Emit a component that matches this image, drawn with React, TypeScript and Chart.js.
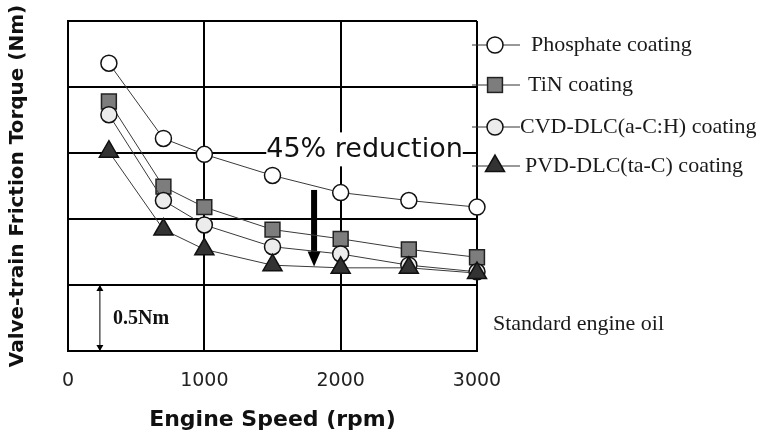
import React, { useEffect, useRef } from "react";
import { Chart, registerables } from "chart.js";

Chart.register(...registerables);

const speeds = [300, 700, 1000, 1500, 2000, 2500, 3000];
const phosphate = [2.18, 1.61, 1.49, 1.33, 1.2, 1.14, 1.09];
const tin = [1.89, 1.245, 1.09, 0.92, 0.85, 0.77, 0.71];
const cvdDlc = [1.79, 1.14, 0.955, 0.79, 0.735, 0.65, 0.6];
const pvdDlc = [1.51, 0.92, 0.77, 0.65, 0.63, 0.63, 0.59];

const seriesNames = [
  "Phosphate coating",
  "TiN coating",
  "CVD-DLC(a-C:H) coating",
  "PVD-DLC(ta-C) coating",
];
const xTicks = [0, 1000, 2000, 3000];

const SANS = "'DejaVu Sans', Verdana, sans-serif";
const SERIF = "'Liberation Serif', 'Times New Roman', serif";

function toXY(vals: number[]) {
  return vals.map((v, i) => ({ x: speeds[i], y: v }));
}

const annotationPlugin = {
  id: "annotations",
  beforeDatasetsDraw(chart: any) {
    const { ctx, scales } = chart;
    const xs = scales.x;
    const ys = scales.y;
    ctx.save();
    // "45% reduction" label with white backing
    ctx.font = `27px ${SANS}`;
    const label = "45% reduction";
    const w = ctx.measureText(label).width;
    const cx = xs.getPixelForValue(2175);
    const cy = ys.getPixelForValue(1.52);
    ctx.fillStyle = "#ffffff";
    ctx.fillRect(cx - w / 2, cy - 18, w, 34);
    ctx.fillStyle = "#111111";
    ctx.textAlign = "center";
    ctx.textBaseline = "middle";
    ctx.fillText(label, cx, cy);

    // bold downward arrow
    const ax = xs.getPixelForValue(1805);
    const aTop = ys.getPixelForValue(1.22);
    const aBot = ys.getPixelForValue(0.64);
    ctx.fillStyle = "#000000";
    ctx.fillRect(ax - 3, aTop, 6, aBot - aTop - 13);
    ctx.beginPath();
    ctx.moveTo(ax - 6.5, aBot - 15);
    ctx.lineTo(ax + 6.5, aBot - 15);
    ctx.lineTo(ax, aBot);
    ctx.closePath();
    ctx.fill();

    // 0.5Nm dimension arrow
    const dx = xs.getPixelForValue(234);
    const d0 = ys.getPixelForValue(0);
    const d1 = ys.getPixelForValue(0.5);
    ctx.strokeStyle = "#000000";
    ctx.lineWidth = 1;
    ctx.beginPath();
    ctx.moveTo(dx, d1);
    ctx.lineTo(dx, d0);
    ctx.stroke();
    ctx.beginPath();
    ctx.moveTo(dx - 3.5, d1 + 6);
    ctx.lineTo(dx + 3.5, d1 + 6);
    ctx.lineTo(dx, d1);
    ctx.closePath();
    ctx.fill();
    ctx.beginPath();
    ctx.moveTo(dx - 3.5, d0 - 6);
    ctx.lineTo(dx + 3.5, d0 - 6);
    ctx.lineTo(dx, d0);
    ctx.closePath();
    ctx.fill();
    ctx.font = `bold 20px ${SERIF}`;
    ctx.textAlign = "left";
    ctx.fillStyle = "#111111";
    ctx.fillText("0.5Nm", xs.getPixelForValue(330), ys.getPixelForValue(0.24));
    ctx.restore();
  },
  afterDraw(chart: any) {
    const { ctx, chartArea } = chart;
    const right = chartArea.right;
    const top = chartArea.top;
    const rows = [24, 64, 106, 145];
    const textX = [54, 51, 43, 48];
    ctx.save();
    chart.data.datasets.forEach((ds: any, i: number) => {
      const y = top + rows[i];
      ctx.strokeStyle = "#333333";
      ctx.lineWidth = 1;
      ctx.beginPath();
      ctx.moveTo(right - 5, y);
      ctx.lineTo(right + 43, y);
      ctx.stroke();
      ctx.fillStyle = ds.pointBackgroundColor;
      ctx.strokeStyle = ds.pointBorderColor;
      ctx.lineWidth = ds.pointBorderWidth;
      const mx = right + 18;
      if (ds.pointStyle === "circle") {
        ctx.beginPath();
        ctx.arc(mx, y, ds.pointRadius, 0, Math.PI * 2);
        ctx.fill();
        ctx.stroke();
      } else if (ds.pointStyle === "rect") {
        const s = ds.pointRadius * Math.SQRT1_2;
        ctx.fillRect(mx - s, y - s, 2 * s, 2 * s);
        ctx.strokeRect(mx - s, y - s, 2 * s, 2 * s);
      } else {
        const r = ds.pointRadius;
        ctx.beginPath();
        for (let k = 0; k < 3; k++) {
          const a = -Math.PI / 2 + (k * 2 * Math.PI) / 3;
          const px = mx + r * Math.cos(a);
          const py = y + r * Math.sin(a);
          if (k === 0) ctx.moveTo(px, py);
          else ctx.lineTo(px, py);
        }
        ctx.closePath();
        ctx.fill();
        ctx.stroke();
      }
      ctx.fillStyle = "#1a1a1a";
      ctx.font = `22px ${SERIF}`;
      ctx.textAlign = "left";
      ctx.textBaseline = "middle";
      ctx.fillText(ds.label, right + textX[i], y);
    });
    ctx.font = `22px ${SERIF}`;
    ctx.fillStyle = "#1a1a1a";
    ctx.textBaseline = "middle";
    ctx.fillText("Standard engine oil", right + 16, chart.scales.y.getPixelForValue(0.2));
    ctx.restore();
  },
};

export default function App() {
  const ref = useRef<HTMLCanvasElement | null>(null);
  useEffect(() => {
    if (!ref.current) return;
    const lineColor = "#3a3a3a";
    const chart = new Chart(ref.current, {
      type: "line",
      data: {
        datasets: [
          {
            label: seriesNames[0],
            data: toXY(phosphate),
            order: 3,
            clip: false,
            borderColor: lineColor,
            borderWidth: 1,
            pointStyle: "circle",
            pointRadius: 8,
            pointBackgroundColor: "#ffffff",
            pointBorderColor: "#111111",
            pointBorderWidth: 1.5,
          },
          {
            label: seriesNames[1],
            data: toXY(tin),
            order: 2,
            clip: false,
            borderColor: lineColor,
            borderWidth: 1,
            pointStyle: "rect",
            pointRadius: 10.5,
            pointBackgroundColor: "#7d7d7d",
            pointBorderColor: "#222222",
            pointBorderWidth: 1.5,
          },
          {
            label: seriesNames[2],
            data: toXY(cvdDlc),
            order: 1,
            clip: false,
            borderColor: lineColor,
            borderWidth: 1,
            pointStyle: "circle",
            pointRadius: 8,
            pointBackgroundColor: "#ececec",
            pointBorderColor: "#111111",
            pointBorderWidth: 1.5,
          },
          {
            label: seriesNames[3],
            data: toXY(pvdDlc),
            order: 0,
            clip: false,
            borderColor: lineColor,
            borderWidth: 1,
            pointStyle: "triangle",
            pointRadius: 11,
            pointBackgroundColor: "#333333",
            pointBorderColor: "#111111",
            pointBorderWidth: 1.5,
          },
        ],
      },
      options: {
        responsive: false,
        animation: false,
        layout: { padding: { top: 21, right: 288, left: 0, bottom: 0 } },
        plugins: {
          legend: { display: false },
          tooltip: { enabled: false },
        },
        scales: {
          x: {
            type: "linear",
            min: 0,
            max: 3000,
            afterBuildTicks: (scale: any) => {
              scale.ticks = xTicks.map((v) => ({ value: v }));
            },
            afterFit: (scale: any) => {
              scale.height = 85;
            },
            grid: { color: "#000000", lineWidth: 2, drawTicks: false },
            border: { color: "#000000", width: 2 },
            ticks: {
              padding: 19,
              color: "#222222",
              font: { family: SANS, size: 19 },
              callback: (v: any) => String(v),
            },
            title: {
              display: true,
              text: "Engine Speed (rpm)",
              color: "#111111",
              font: { family: SANS, size: 22, weight: "bold" },
              padding: { top: 0, bottom: 3 },
            },
          },
          y: {
            type: "linear",
            min: 0,
            max: 2.5,
            ticks: { display: false, stepSize: 0.5 },
            afterFit: (scale: any) => {
              scale.width = 68;
            },
            grid: { color: "#000000", lineWidth: 2, drawTicks: false },
            border: { color: "#000000", width: 2 },
            title: {
              display: true,
              text: "Valve-train Friction Torque (Nm)",
              color: "#111111",
              font: { family: SANS, size: 20, weight: "bold" },
              padding: { top: 6, bottom: 0 },
            },
          },
        },
      },
      plugins: [annotationPlugin],
    } as any);
    return () => chart.destroy();
  }, []);
  return (
    <div style={{ position: "absolute", left: 0, top: 0, width: 765, height: 436, background: "#ffffff" }}>
      <canvas ref={ref} width={765} height={436} />
    </div>
  );
}
